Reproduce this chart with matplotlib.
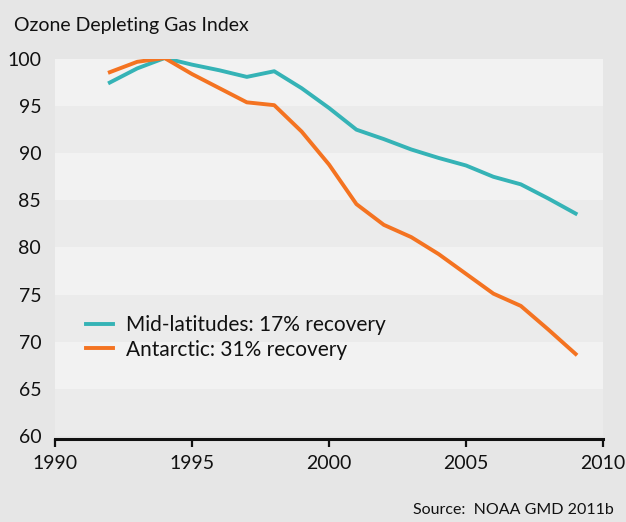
import numpy as np
import matplotlib.pyplot as plt

# Data
years = [1992, 1993, 1994, 1995, 1996, 1997, 1998, 1999, 2000,
         2001, 2002, 2003, 2004, 2005, 2006, 2007, 2008, 2009]
mid_latitudes = [97.5, 99.0, 100.1, 99.4, 98.8, 98.1, 98.7, 96.9, 94.8,
                 92.5, 91.5, 90.4, 89.5, 88.7, 87.5, 86.7, 85.2, 83.6]
antarctic = [98.6, 99.7, 100.1, 98.4, 96.9, 95.4, 95.1, 92.3, 88.8,
             84.6, 82.4, 81.1, 79.3, 77.2, 75.1, 73.8, 71.3, 68.7]
labels = ["Mid-latitudes: 17% recovery", "Antarctic: 31% recovery"]
x_ticks = [1990, 1995, 2000, 2005, 2010]
y_ticks = [60, 65, 70, 75, 80, 85, 90, 95, 100]

teal = "#35b3b6"
orange = "#f47321"
bg = "#e6e6e6"
plt.rcParams["font.family"] = ["Lato", "DejaVu Sans"]

fig = plt.figure(figsize=(6.26, 5.22), dpi=100, facecolor=bg)
ax = fig.add_axes([0.0879, 0.1648, 0.8754, 0.7222])
ax.set_facecolor(bg)

# alternating horizontal bands
for i in range(len(y_ticks) - 1):
    col = "#f2f2f2" if i % 2 == 1 else "#ebebeb"
    ax.axhspan(y_ticks[i], y_ticks[i + 1], color=col, lw=0, zorder=0)

ax.plot(years, mid_latitudes, color=teal, lw=2.8, label=labels[0],
        solid_joinstyle="round", zorder=3)
ax.plot(years, antarctic, color=orange, lw=2.8, label=labels[1],
        solid_joinstyle="round", zorder=3)

ax.set_xlim(1990, 2010)
ax.set_ylim(60, 100)
ax.set_xticks(x_ticks)
ax.set_yticks(y_ticks)
ax.tick_params(axis="x", direction="out", length=6, width=1.6,
               labelsize=14, pad=6, colors="#111111")
ax.tick_params(axis="y", length=0, labelsize=14, pad=10, colors="#111111")

for s in ["top", "right", "left"]:
    ax.spines[s].set_visible(False)
ax.spines["bottom"].set_linewidth(2.2)
ax.spines["bottom"].set_color("#111111")
ax.spines["bottom"].set_position(("outward", 2))

leg = ax.legend(loc="center left", bbox_to_anchor=(0.057, 0.261),
                frameon=False, fontsize=15, handlelength=1.3,
                handletextpad=0.6, labelspacing=0.2, borderpad=0,
                borderaxespad=0)
for t in leg.get_texts():
    t.set_color("#111111")

fig.text(14 / 626, 1 - 25 / 522, "Ozone Depleting Gas Index",
         fontsize=14, va="center", ha="left", color="#111111")
fig.text(614 / 626, 1 - 510 / 522, "Source:  NOAA GMD 2011b",
         fontsize=11.5, va="center", ha="right", color="#111111")

fig.savefig("out.png", dpi=100, facecolor=bg)
